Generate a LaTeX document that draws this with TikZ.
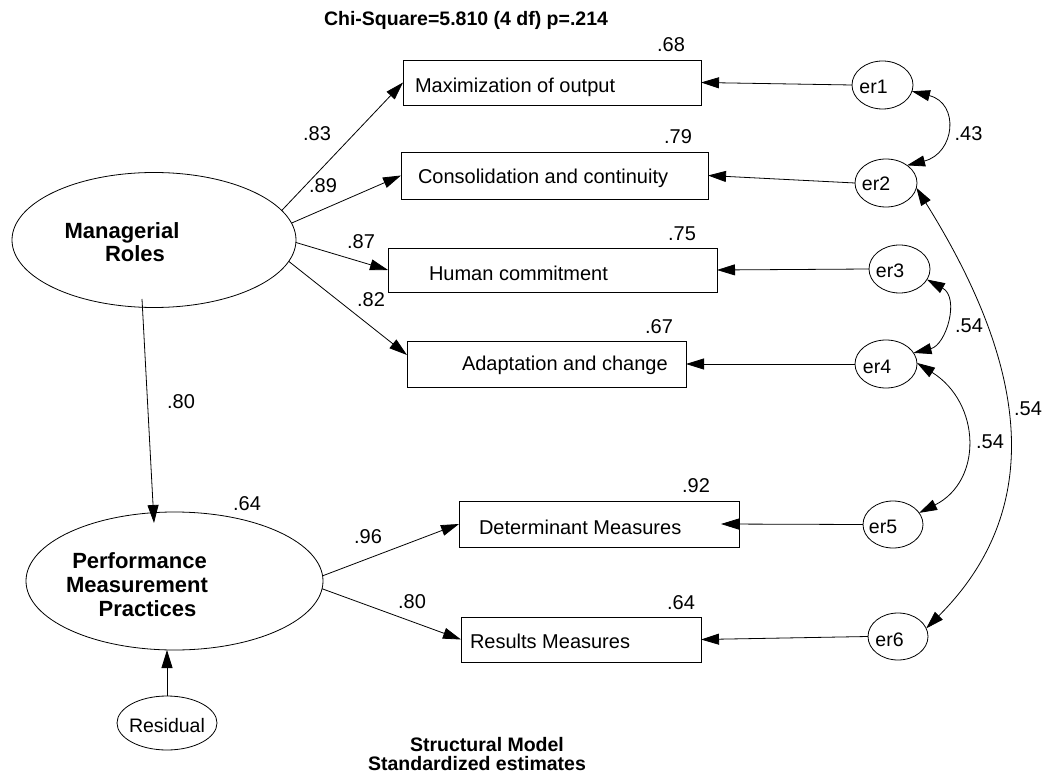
\documentclass[tikz,border=0pt]{standalone}
\usepackage{fontspec}
\setmainfont{Liberation Sans}
\usetikzlibrary{arrows.meta,shapes.geometric,calc}
\begin{document}
\begin{tikzpicture}[x=1pt,y=-1pt,
  line width=0.8pt,
  every node/.style={inner sep=0pt, outer sep=0pt},
  obs/.style={draw, rectangle, line width=0.9pt},
  lat/.style={draw, ellipse, line width=0.8pt},
  err/.style={draw, ellipse, line width=0.8pt},
  txt/.style={font=\fontsize{20}{24}\selectfont, anchor=base west},
  num/.style={font=\fontsize{20}{24}\selectfont, anchor=base},
  errtxt/.style={font=\fontsize{19.5}{24}\selectfont, anchor=base},
  lattxt/.style={font=\fontsize{22}{24}\selectfont\bfseries, anchor=base},
  head/.style={font=\fontsize{19.5}{20}\selectfont\bfseries, anchor=base},
  reg/.style={-{Triangle[length=18pt,width=11pt]}},
  cov/.style={{Triangle[length=18pt,width=11pt]}-{Triangle[length=18pt,width=11pt]}},
]
\useasboundingbox (0,0) rectangle (1059,775);

% title
\node[head] (title) at (466,26) {Chi-Square=5.810 (4 df) p=.214};

% latent variables
\node[lat, minimum width=284pt, minimum height=135pt] (MR) at (154,240) {};
\node[lattxt] (MRa) at (122,239) {Managerial};
\node[lattxt] (MRb) at (135,262) {Roles};

\node[lat, minimum width=297pt, minimum height=138pt] (PMP) at (174.5,581) {};
\node[lattxt] (PMPa) at (139.5,568) {Performance};
\node[lattxt] (PMPb) at (137,592) {Measurement};
\node[lattxt] (PMPc) at (147.5,616) {Practices};

\node[lat, minimum width=100pt, minimum height=54pt] (Resid) at (167,723) {};
\node[errtxt] (tResid) at (167,732) {Residual};

% observed indicators
\node[obs, minimum width=298pt, minimum height=45pt] (Max) at (552,82.5) {};
\node[txt] (tMax) at (415,93) {Maximization of output};
\node[obs, minimum width=307pt, minimum height=47pt] (Cons) at (554.5,175.5) {};
\node[txt] (tCons) at (418,184) {Consolidation and continuity};
\node[obs, minimum width=329pt, minimum height=44pt] (Hum) at (552.5,270) {};
\node[txt] (tHum) at (429,280) {Human commitment};
\node[obs, minimum width=279pt, minimum height=46pt] (Adp) at (546.5,364) {};
\node[txt] (tAdp) at (462,370) {Adaptation and change};
\node[obs, minimum width=280pt, minimum height=46pt] (Det) at (599,524) {};
\node[txt] (tDet) at (479,534) {Determinant Measures};
\node[obs, minimum width=240pt, minimum height=45pt] (ResM) at (581,639.5) {};
\node[txt] (tResM) at (470,648) {Results Measures};

% error terms
\node[err, minimum width=61pt, minimum height=48pt] (er1) at (882.5,85) {};
\node[errtxt] (ter1) at (873.5,94) {er1};
\node[err, minimum width=62pt, minimum height=48pt] (er2) at (886,183) {};
\node[errtxt] (ter2) at (876,191) {er2};
\node[err, minimum width=61pt, minimum height=48pt] (er3) at (899.5,269) {};
\node[errtxt] (ter3) at (890,278) {er3};
\node[err, minimum width=62pt, minimum height=48pt] (er4) at (886,364) {};
\node[errtxt] (ter4) at (877,373) {er4};
\node[err, minimum width=60pt, minimum height=47pt] (er5) at (893,524.5) {};
\node[errtxt] (ter5) at (883,533) {er5};
\node[err, minimum width=60pt, minimum height=47pt] (er6) at (898,636.5) {};
\node[errtxt] (ter6) at (889.5,646) {er6};

% squared multiple correlations
\node[num] (r2Max) at (671,52) {.68};
\node[num] (r2Cons) at (678,144) {.79};
\node[num] (r2Hum) at (682,241) {.75};
\node[num] (r2Adp) at (659,333) {.67};
\node[num] (r2Det) at (696,492) {.92};
\node[num] (r2ResM) at (681,609) {.64};
\node[num] (r2PMP) at (247,510) {.64};

% loadings and structural path
\draw[reg] (MR.13.5) -- (Max.west);
\draw[reg] (MR.7.4) -- (Cons.west);
\draw[reg] (MR.-1) -- (Hum.west);
\draw[reg] (MR.-9) -- ([yshift=9pt]Adp.west);
\draw[reg] ($(MR.center)+(-12,59)$) -- ($(PMP.north)+(-20.5,11)$);
\draw[reg] (PMP.2.7) -- (Det.west);
\draw[reg] (PMP.-3.8) -- (ResM.west);
\draw[reg] (Resid.north) -- (Resid.north |- PMP.south);

\node[num] (wMax) at (317,141) {.83};
\node[num] (wCons) at (323,193) {.89};
\node[num] (wHum) at (361,249) {.87};
\node[num] (wAdp) at (371,306) {.82};
\node[num] (wPMP) at (181,408) {.80};
\node[num] (wDet) at (368,543) {.96};
\node[num] (wResM) at (412,608) {.80};

% error paths
\draw[reg] (er1.west) -- (Max.east);
\draw[reg] (er2.west) -- (Cons.east);
\draw[reg] (er3.west) -- (Hum.east);
\draw[reg] (er4.west) -- (Adp.east);
\draw[reg] (er5.west) -- ($(Det.east)+(-18,0)$);
\draw[reg] (er6.west) -- (ResM.east);

% error covariances
\draw[cov] (er1.-12) .. controls +(48,12) and +(48,-12) .. (er2.40);
\draw[cov] (er3.-21) .. controls +(33,18) and +(33,-8) .. (er4.22.5);
\draw[cov] (er4.2) .. controls +(64,40) and +(64,-32) .. (er5.24);
\draw[cov] (er2.-9) .. controls +(100,160) and +(130,-130) .. (er6.16);

\node[num] (c12) at (968.5,141) {.43};
\node[num] (c34) at (969,332) {.54};
\node[num] (c45) at (990,448) {.54};
\node[num] (c26) at (1028,415) {.54};

% caption
\node[head] (cap1) at (487,751) {Structural Model};
\node[head] (cap2) at (477,770) {Standardized estimates};
\end{tikzpicture}
\end{document}
